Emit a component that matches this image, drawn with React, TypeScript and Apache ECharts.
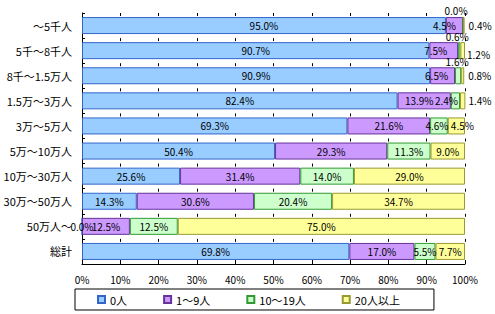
import React, { useEffect, useRef } from "react";
import * as echarts from "echarts";

const categories = [
  "～5千人",
  "5千～8千人",
  "8千～1.5万人",
  "1.5万～3万人",
  "3万～5万人",
  "5万～10万人",
  "10万～30万人",
  "30万～50万人",
  "50万人～",
  "総計",
];
const seriesNames = ["0人", "1～9人", "10～19人", "20人以上"];
const v0 = [95.0, 90.7, 90.9, 82.4, 69.3, 50.4, 25.6, 14.3, 0.0, 69.8];
const v1 = [4.5, 7.5, 6.5, 13.9, 21.6, 29.3, 31.4, 30.6, 12.5, 17.0];
const v2 = [0.0, 0.6, 1.6, 2.4, 4.6, 11.3, 14.0, 20.4, 12.5, 5.5];
const v3 = [0.4, 1.2, 0.8, 1.4, 4.5, 9.0, 29.0, 34.7, 75.0, 7.7];
const xTicks = [0, 10, 20, 30, 40, 50, 60, 70, 80, 90, 100];

const fills = ["#99CCFF", "#CC99FF", "#CCFFCC", "#FFFF99"];
const borders = ["#3366CC", "#663399", "#339933", "#999933"];

// label placement overrides: [seriesIndex-rowIndex]
const labelOverrides: Record<string, any> = {
  "1-0": { offset: [-10, 0] },
  "2-0": { position: "top", offset: [-7, 4] },
  "3-0": { position: "right", distance: 4 },
  "1-1": { offset: [-8, 0] },
  "2-1": { position: "top", offset: [-2, 4] },
  "3-1": { position: "right", distance: 2, offset: [0, 4] },
  "1-2": { offset: [-6, 0] },
  "2-2": { position: "top", offset: [-1, 4] },
  "3-2": { position: "right", distance: 4 },
  "1-3": { offset: [-5, 0] },
  "2-3": { offset: [-9, 0] },
  "3-3": { position: "right", distance: 3 },
  "2-4": { offset: [-2, 0] },
  "3-4": { offset: [6, 0] },
};

const font = '"Noto Sans CJK JP", "Noto Sans", sans-serif';

export default function App() {
  const ref = useRef<HTMLDivElement>(null);
  useEffect(() => {
    if (!ref.current) return;
    const chart = echarts.init(ref.current, null, { renderer: "svg" });
    const all = [v0, v1, v2, v3];
    const series = all.map((vals, si) => ({
      name: seriesNames[si],
      type: "bar",
      stack: "total",
      barWidth: 17,
      itemStyle: { color: fills[si], borderColor: borders[si], borderWidth: 1 },
      label: {
        show: true,
        position: "inside",
        color: "#000",
        fontSize: 10,
        fontFamily: font,
        formatter: (p: any) => Number(p.value).toFixed(1) + "%",
      },
      data: vals.map((v, ri) => {
        const o = labelOverrides[si + "-" + ri];
        return o ? { value: v, label: o } : v;
      }),
    }));
    chart.setOption({
      animation: false,
      textStyle: { fontFamily: font },
      grid: { left: 82, top: 13, width: 383, height: 251, containLabel: false },
      legend: {
        data: seriesNames,
        left: 75,
        top: 289,
        itemWidth: 7,
        itemHeight: 7,
        itemGap: 36,
        padding: [5, 34, 5, 22],
        borderColor: "#000",
        borderWidth: 1,
        icon: "rect",
        textStyle: { fontSize: 11, color: "#000", fontFamily: font },
      },
      xAxis: {
        type: "value",
        min: xTicks[0],
        max: xTicks[xTicks.length - 1],
        interval: 10,
        axisLine: { show: true, lineStyle: { color: "#000" } },
        axisTick: { show: true, inside: true, length: 4, lineStyle: { color: "#000" } },
        axisLabel: {
          color: "#000",
          fontSize: 10,
          margin: 10,
          fontFamily: font,
          formatter: (v: number) => v + "%",
        },
        splitLine: {
          show: true,
          lineStyle: { color: "#000", type: [3, 22.1], width: 1 },
        },
      },
      yAxis: {
        type: "category",
        data: categories,
        inverse: true,
        axisLine: { show: true, lineStyle: { color: "#000" } },
        axisTick: { show: true, inside: true, length: 3, lineStyle: { color: "#000" } },
        axisLabel: { color: "#000", fontSize: 11, margin: 10, fontFamily: font },
      },
      series,
    });
    return () => chart.dispose();
  }, []);
  return (
    <div
      ref={ref}
      style={{ position: "absolute", left: 0, top: 0, width: 495, height: 314, background: "#fff" }}
    />
  );
}
